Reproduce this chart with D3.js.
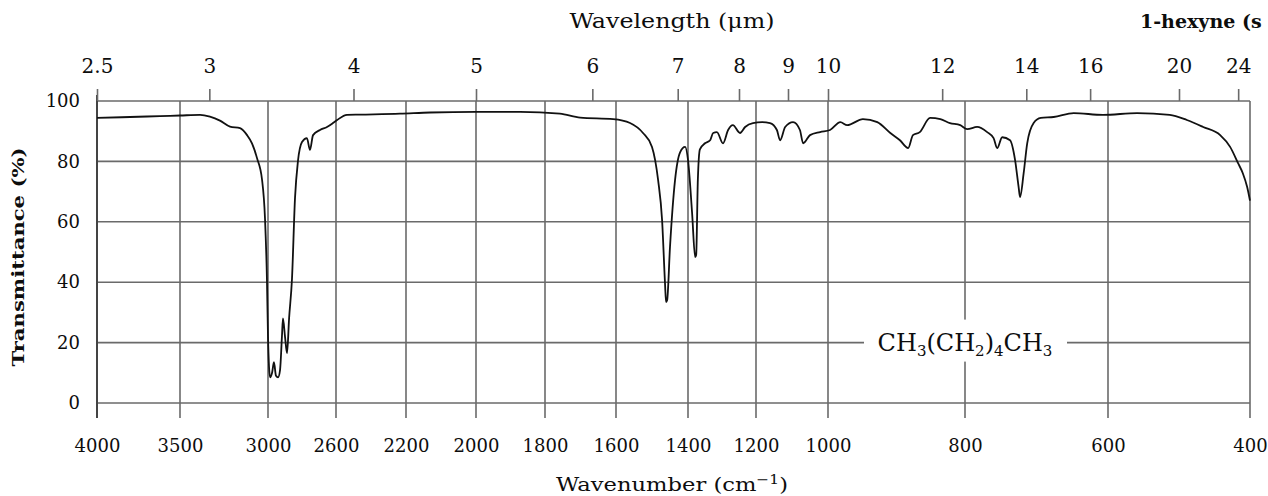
<!DOCTYPE html>
<html>
<head>
<meta charset="utf-8">
<script src="https://cdn.jsdelivr.net/npm/d3@7"></script>
<style>
  body { margin: 0; background: #fff; }
  svg { display: block; }
  text { font-family: "DejaVu Serif", "Liberation Serif", serif; fill: #0d0d0d; }
</style>
</head>
<body>
<svg id="chart" width="1268" height="496"></svg>
<script>
// spectrum: wavenumber (cm-1) and transmittance (%)
const wavenumber = [4000, 3801, 3620, 3500, 3386, 3330, 3273, 3216, 3159, 3119, 3091, 3062, 3034, 3017,
  3006, 3000, 2994, 2988, 2976, 2965, 2953, 2941, 2929, 2918, 2912, 2900, 2888, 2876, 2859, 2841,
  2824, 2800, 2771, 2753, 2735, 2694, 2653, 2618, 2594, 2537, 2463, 2234, 2131, 2000, 1872, 1758,
  1701, 1608, 1561, 1525, 1500, 1483, 1472, 1464, 1461, 1458, 1450, 1436, 1422, 1408, 1400, 1388,
  1379, 1376, 1371, 1365, 1350, 1335, 1326, 1315, 1297, 1282, 1268, 1247, 1232, 1209, 1183, 1161,
  1142, 1133, 1119, 1097, 1078, 1069, 1050, 1022, 997, 982, 972, 949, 928, 909, 895, 883, 876, 866,
  851, 836, 822, 807, 797, 783, 769, 760, 755, 748, 737, 730, 725, 723, 718, 713, 704, 694, 676, 648,
  607, 559, 513, 489, 466, 442, 428, 417, 410, 404, 400];
const transmittance = [94.4, 94.7, 95, 95.2, 95.4, 94.8, 93.5, 91.5, 91, 88.7, 86, 81, 74, 61,
  41, 22, 12, 8.5, 10, 13.5, 9, 8.5, 11, 22, 28, 22, 16.5, 28, 41, 68,
  80, 86.4, 87.7, 83.8, 88.7, 90.4, 91.4, 92.7, 93.7, 95.4, 95.5, 95.8, 96.2, 96.4, 96.4, 95.8,
  94.5, 94, 92.7, 89.4, 84.8, 73.8, 60.6, 40, 33.4, 34, 51.7, 73.8, 83, 84.8, 80.5, 63,
  48.3, 49, 74, 84, 86, 87, 89.4, 89.7, 86, 90.4, 92, 89.4, 91.4, 92.7, 93, 92.7,
  90.4, 87, 91.4, 93, 90.4, 86, 88.7, 89.7, 90.4, 93, 92, 94, 93, 89.4, 87, 84.4, 88.7, 89.7,
  94.4, 94, 92.7, 92, 90.7, 91.4, 89.7, 87.7, 84.4, 88, 87, 80.5, 71.5, 68.2, 76, 86, 92.7, 94.4, 94.7, 96,
  95.4, 96, 95.4, 93.7, 91.4, 88.7, 84.8, 79.5, 76, 71.5, 67];

const wavenumberTicks = [4000, 3500, 3000, 2600, 2200, 2000, 1800, 1600, 1400, 1200, 1000, 800, 600, 400];
const wavelengthTicks = [2.5, 3, 4, 5, 6, 7, 8, 9, 10, 12, 14, 16, 20, 24];
const transmittanceTicks = [0, 20, 40, 60, 80, 100];

const svg = d3.select("#chart");

// the chart paper is not linear in wavenumber: one stop per grid line
const x = d3.scaleLinear()
  .domain(wavenumberTicks)
  .range([97, 180, 268, 336, 406, 476, 545, 616, 688, 756, 828, 965, 1108, 1250]);
const y = d3.scaleLinear().domain([0, 100]).range([403, 101]);

const gridColor = "#6a6a6a";
const grid = svg.append("g");

// horizontal grid
grid.selectAll("line.h")
  .data(transmittanceTicks)
  .enter().append("line")
    .attr("x1", x(4000)).attr("x2", x(400))
    .attr("y1", d => y(d)).attr("y2", d => y(d))
    .attr("stroke", gridColor).attr("stroke-width", 1.6);

// vertical grid, running a little below the 0 line
grid.selectAll("line.v")
  .data(wavenumberTicks)
  .enter().append("line")
    .attr("x1", d => x(d)).attr("x2", d => x(d))
    .attr("y1", y(100)).attr("y2", y(0) + 15)
    .attr("stroke", d => d === 4000 ? "#444" : gridColor)
    .attr("stroke-width", d => d === 4000 ? 2 : 1.6);

// left border sticks out a bit at the top too
grid.append("line")
  .attr("x1", x(4000)).attr("x2", x(4000))
  .attr("y1", y(100) - 6).attr("y2", y(100))
  .attr("stroke", "#444").attr("stroke-width", 2);

// bottom axis labels
svg.append("g")
  .attr("transform", "translate(0," + (y(0) + 15) + ")")
  .call(d3.axisBottom(x).tickValues(wavenumberTicks).tickSize(0).tickPadding(21).tickFormat(d3.format("d")))
  .call(g => g.select(".domain").remove())
  .call(g => g.selectAll("text").style("font-size", "18px").style("font-family", null));

// top axis: wavelength in micrometres
svg.append("g")
  .attr("transform", "translate(0," + y(100) + ")")
  .call(d3.axisTop(x)
    .tickValues(wavelengthTicks.map(l => 1e4 / l))
    .tickSize(12).tickPadding(16)
    .tickFormat(d => Math.round(1e5 / d) / 10))
  .call(g => g.select(".domain").remove())
  .call(g => g.selectAll(".tick line").attr("stroke", gridColor).attr("stroke-width", 1.6))
  .call(g => g.selectAll("text").style("font-size", "20px").style("font-family", null));

// left axis labels
svg.append("g")
  .attr("transform", "translate(" + x(4000) + ",0)")
  .call(d3.axisLeft(y).tickValues(transmittanceTicks).tickSize(0).tickPadding(17))
  .call(g => g.select(".domain").remove())
  .call(g => g.selectAll("text").style("font-size", "18px").style("font-family", null));

// spectrum
const line = d3.line()
  .x((d, i) => x(wavenumber[i]))
  .y((d, i) => y(transmittance[i]))
  .curve(d3.curveMonotoneX);

svg.append("path")
  .datum(wavenumber)
  .attr("d", line)
  .attr("fill", "none")
  .attr("stroke", "#111")
  .attr("stroke-width", 1.8)
  .attr("stroke-linejoin", "round");

// compound label sits on the 20 % line
const labelX = x(800), labelY = y(20);
svg.append("rect")
  .attr("x", labelX - 101).attr("y", labelY - 23)
  .attr("width", 203).attr("height", 42)
  .attr("fill", "#fff");

const formula = svg.append("text")
  .attr("x", labelX)
  .attr("y", labelY + 8)
  .attr("text-anchor", "middle")
  .style("font-size", "24px");
[["CH", false], ["3", true], ["(CH", false], ["2", true], [")", false], ["4", true], ["CH", false], ["3", true]]
  .forEach(([t, sub]) => {
    formula.append("tspan")
      .attr("dy", sub ? 5 : -5)
      .style("font-size", sub ? "15px" : "24px")
      .text(t);
  });
formula.select("tspan").attr("dy", 0);

// titles
svg.append("text")
  .attr("x", 672).attr("y", 28)
  .attr("text-anchor", "middle")
  .style("font-size", "20px")
  .attr("textLength", 205).attr("lengthAdjust", "spacingAndGlyphs")
  .text("Wavelength (\u03bcm)");

svg.append("text")
  .attr("x", 1140).attr("y", 28)
  .style("font-size", "19px")
  .style("font-weight", "bold")
  .text("1-hexyne (s");

const xTitle = svg.append("text")
  .attr("x", 672).attr("y", 491)
  .attr("text-anchor", "middle")
  .style("font-size", "19px")
  .attr("textLength", 232).attr("lengthAdjust", "spacingAndGlyphs");
xTitle.append("tspan").text("Wavenumber (cm");
xTitle.append("tspan").attr("dy", -7).style("font-size", "13px").text("\u22121");
xTitle.append("tspan").attr("dy", 7).text(")");

svg.append("text")
  .attr("transform", "translate(24,257) rotate(-90)")
  .attr("text-anchor", "middle")
  .style("font-size", "17px")
  .style("font-weight", "bold")
  .attr("textLength", 219).attr("lengthAdjust", "spacingAndGlyphs")
  .text("Transmittance (%)");
</script>
</body>
</html>
